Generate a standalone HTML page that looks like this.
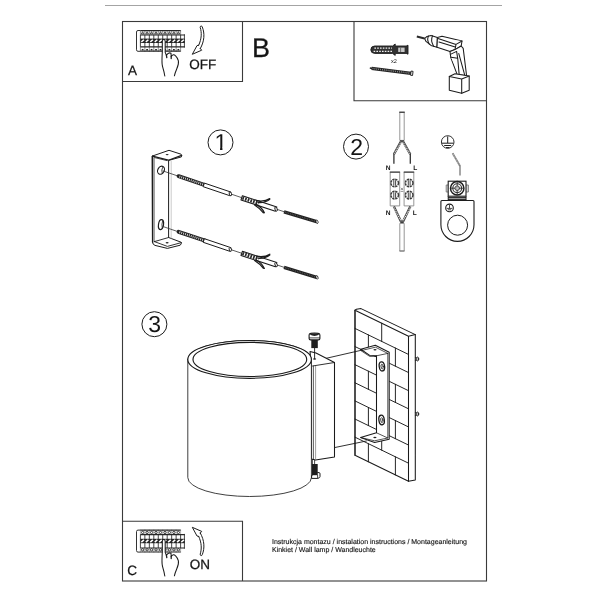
<!DOCTYPE html>
<html lang="pl">
<head>
<meta charset="utf-8">
<title>Instrukcja montazu</title>
<style>
html,body{margin:0;padding:0;background:#fff;width:600px;height:600px;overflow:hidden}
svg{display:block;filter:blur(0.3px)}
text{font-family:"Liberation Sans",sans-serif;fill:#151515;text-rendering:geometricPrecision}
.lb{stroke:#151515;stroke-width:0.25px}
.cp{stroke:#222;stroke-width:0.15px}
</style>
</head>
<body>
<svg width="600" height="600" viewBox="0 0 600 600">
<rect width="600" height="600" fill="#fff"/>
<!-- frame -->
<line x1="105" y1="5.5" x2="502" y2="5.5" stroke="#a4a4a4" stroke-width="1.2"/>
<g fill="none" stroke="#3a3a3a" stroke-width="1.1">
<rect x="122.5" y="21.5" width="364" height="559.5"/>
<path d="M122.5 81.5H242.5V21.5"/>
<path d="M354 21.5V100.7H486.5"/>
<path d="M122.5 521.3H242.5V581"/>
</g>
<!-- panel A -->
<g transform="translate(136 30)" stroke="#262626" fill="none" stroke-linecap="butt">
<path d="M4.6 0.5H2Q0.5 0.5 0.5 2V19.8Q0.5 21.3 2 21.3H4.6" stroke="#333" stroke-width="1"/>
<rect x="4.4" y="0" width="40.2" height="21.8" fill="#fff" stroke="none"/>
<rect x="4.4" y="8.60" width="44.40" height="4.40" fill="#262626" stroke="none"/>
<path d="M4.4 0.6H44.6M4.4 21.2H44.6" stroke-width="1.2"/>
<path d="M4.4 5.0H48.8M4.4 16.8H48.8" stroke-width="1.2"/>
<path d="M4.40 0V5.0M4.40 16.8V21.8M8.87 0V5.0M8.87 16.8V21.8M13.33 0V5.0M13.33 16.8V21.8M17.80 0V5.0M17.80 16.8V21.8M22.27 0V5.0M22.27 16.8V21.8M26.73 0V5.0M26.73 16.8V21.8M31.20 0V5.0M31.20 16.8V21.8M35.67 0V5.0M35.67 16.8V21.8M40.13 0V5.0M40.13 16.8V21.8M44.60 0V5.0M44.60 16.8V21.8" stroke-width="0.5"/>
<path d="M4.40 5.0V16.8M8.87 5.0V16.8M13.33 5.0V16.8M17.80 5.0V16.8M22.27 5.0V16.8M26.73 5.0V16.8M31.20 5.0V16.8M35.67 5.0V16.8M40.13 5.0V16.8M44.60 5.0V16.8M48.40 4.3V17.5" stroke-width="0.85"/>
<path d="M5.33 11.90L7.93 9.70" stroke="#fff" stroke-width="1.5"/>
<path d="M5.23 4.1L6.63 1.6L8.03 4.1Z" stroke-width="0.7" fill="#bbb"/>
<path d="M5.73 19.70H7.53" stroke-width="1.5"/>
<path d="M9.80 11.90L12.40 9.70" stroke="#fff" stroke-width="1.5"/>
<path d="M9.70 4.1L11.10 1.6L12.50 4.1Z" stroke-width="0.7" fill="#bbb"/>
<path d="M10.20 19.70H12.00" stroke-width="1.5"/>
<path d="M14.27 11.90L16.87 9.70" stroke="#fff" stroke-width="1.5"/>
<path d="M14.17 4.1L15.57 1.6L16.97 4.1Z" stroke-width="0.7" fill="#bbb"/>
<path d="M14.67 19.70H16.47" stroke-width="1.5"/>
<path d="M18.73 11.90L21.33 9.70" stroke="#fff" stroke-width="1.5"/>
<path d="M18.63 4.1L20.03 1.6L21.43 4.1Z" stroke-width="0.7" fill="#bbb"/>
<path d="M19.13 19.70H20.93" stroke-width="1.5"/>
<path d="M23.20 11.90L25.80 9.70" stroke="#fff" stroke-width="1.5"/>
<path d="M23.10 4.1L24.50 1.6L25.90 4.1Z" stroke-width="0.7" fill="#bbb"/>
<path d="M23.60 19.70H25.40" stroke-width="1.5"/>
<path d="M27.67 11.90L30.27 9.70" stroke="#fff" stroke-width="1.5"/>
<path d="M27.57 4.1L28.97 1.6L30.37 4.1Z" stroke-width="0.7" fill="#bbb"/>
<path d="M28.07 19.70H29.87" stroke-width="1.5"/>
<path d="M32.13 11.90L34.73 9.70" stroke="#fff" stroke-width="1.5"/>
<path d="M32.03 4.1L33.43 1.6L34.83 4.1Z" stroke-width="0.7" fill="#bbb"/>
<path d="M32.53 19.70H34.33" stroke-width="1.5"/>
<path d="M36.60 11.90L39.20 9.70" stroke="#fff" stroke-width="1.5"/>
<path d="M36.50 4.1L37.90 1.6L39.30 4.1Z" stroke-width="0.7" fill="#bbb"/>
<path d="M37.00 19.70H38.80" stroke-width="1.5"/>
<path d="M41.07 11.90L43.67 9.70" stroke="#fff" stroke-width="1.5"/>
<path d="M40.97 4.1L42.37 1.6L43.77 4.1Z" stroke-width="0.7" fill="#bbb"/>
<path d="M41.47 19.70H43.27" stroke-width="1.5"/>
<path d="M45.30 11.90L47.90 9.70" stroke="#fff" stroke-width="1.5"/>
</g>
<g transform="translate(0 0)" fill="#fff" stroke="#1c1c1c" stroke-width="1.05" stroke-linejoin="round" stroke-linecap="round">
<path d="M164.8 76C164.4 72.6 163.4 69.4 162.4 66C161.6 62.6 162 58 162.3 52V41.2Q162.5 39.4 163.8 39.4Q165.1 39.4 165.2 41.2V52.4L166.4 55.2Q168.6 52 171 53.2L171.2 56.6Q173.2 53.2 175.6 55.8Q177.8 58 178.4 60.8C178.9 63.6 178 66 176.8 68.8C175.8 71.2 174.9 73.4 174.4 75.8" />
<path d="M166.4 55.2L166.8 57.6M171.2 56.4V58.6" fill="none" stroke-width="1.3"/>
</g>
<g fill="none" stroke="#1c1c1c" stroke-width="1" stroke-linejoin="round" stroke-linecap="round" >
<path d="M198.7 45.2C201.8 38.6 201.8 32.6 200.2 27.4Q200.2 26 201.2 26Q202 26 202.3 27C204.8 33.4 204.6 41 200.3 48.6"/>
<path d="M198.7 45.2L197 45.6L192.3 54.3L201.7 50.2L200.3 48.6"/>
</g>
<text x="127.9" y="74.6" font-size="13.5" class="lb">A</text>
<text x="189.2" y="68.9" font-size="13.5" class="lb">OFF</text>
<text x="252" y="56.6" font-size="27" class="lb">B</text>
<!-- panel C -->
<g transform="translate(136 529.6)" stroke="#262626" fill="none" stroke-linecap="butt">
<path d="M4.6 0.5H2Q0.5 0.5 0.5 2V21.0Q0.5 22.5 2 22.5H4.6" stroke="#333" stroke-width="1"/>
<rect x="4.4" y="0" width="40.2" height="23.0" fill="#fff" stroke="none"/>
<rect x="4.4" y="9.20" width="44.40" height="4.40" fill="#262626" stroke="none"/>
<path d="M4.4 0.6H44.6M4.4 22.4H44.6" stroke-width="1.2"/>
<path d="M4.4 5.0H48.8M4.4 18.4H48.8" stroke-width="1.2"/>
<path d="M4.40 0V5.0M4.40 18.4V23.0M8.87 0V5.0M8.87 18.4V23.0M13.33 0V5.0M13.33 18.4V23.0M17.80 0V5.0M17.80 18.4V23.0M22.27 0V5.0M22.27 18.4V23.0M26.73 0V5.0M26.73 18.4V23.0M31.20 0V5.0M31.20 18.4V23.0M35.67 0V5.0M35.67 18.4V23.0M40.13 0V5.0M40.13 18.4V23.0M44.60 0V5.0M44.60 18.4V23.0" stroke-width="0.35"/>
<path d="M4.40 5.0V18.4M8.87 5.0V18.4M13.33 5.0V18.4M17.80 5.0V18.4M22.27 5.0V18.4M26.73 5.0V18.4M31.20 5.0V18.4M35.67 5.0V18.4M40.13 5.0V18.4M44.60 5.0V18.4M48.40 4.3V19.099999999999998" stroke-width="0.85"/>
<path d="M5.33 12.50L7.93 10.30" stroke="#fff" stroke-width="1.5"/>
<circle cx="6.63" cy="2.9" r="1.15" stroke-width="0.9"/>
<circle cx="6.63" cy="20.20" r="1.15" stroke-width="0.9"/>
<path d="M9.80 12.50L12.40 10.30" stroke="#fff" stroke-width="1.5"/>
<circle cx="11.10" cy="2.9" r="1.15" stroke-width="0.9"/>
<circle cx="11.10" cy="20.20" r="1.15" stroke-width="0.9"/>
<path d="M14.27 12.50L16.87 10.30" stroke="#fff" stroke-width="1.5"/>
<circle cx="15.57" cy="2.9" r="1.15" stroke-width="0.9"/>
<circle cx="15.57" cy="20.20" r="1.15" stroke-width="0.9"/>
<path d="M18.73 12.50L21.33 10.30" stroke="#fff" stroke-width="1.5"/>
<circle cx="20.03" cy="2.9" r="1.15" stroke-width="0.9"/>
<circle cx="20.03" cy="20.20" r="1.15" stroke-width="0.9"/>
<path d="M23.20 12.50L25.80 10.30" stroke="#fff" stroke-width="1.5"/>
<circle cx="24.50" cy="2.9" r="1.15" stroke-width="0.9"/>
<circle cx="24.50" cy="20.20" r="1.15" stroke-width="0.9"/>
<path d="M27.67 12.50L30.27 10.30" stroke="#fff" stroke-width="1.5"/>
<circle cx="28.97" cy="2.9" r="1.15" stroke-width="0.9"/>
<circle cx="28.97" cy="20.20" r="1.15" stroke-width="0.9"/>
<path d="M32.13 12.50L34.73 10.30" stroke="#fff" stroke-width="1.5"/>
<circle cx="33.43" cy="2.9" r="1.15" stroke-width="0.9"/>
<circle cx="33.43" cy="20.20" r="1.15" stroke-width="0.9"/>
<path d="M36.60 12.50L39.20 10.30" stroke="#fff" stroke-width="1.5"/>
<circle cx="37.90" cy="2.9" r="1.15" stroke-width="0.9"/>
<circle cx="37.90" cy="20.20" r="1.15" stroke-width="0.9"/>
<path d="M41.07 12.50L43.67 10.30" stroke="#fff" stroke-width="1.5"/>
<circle cx="42.37" cy="2.9" r="1.15" stroke-width="0.9"/>
<circle cx="42.37" cy="20.20" r="1.15" stroke-width="0.9"/>
<path d="M45.30 12.50L47.90 10.30" stroke="#fff" stroke-width="1.5"/>
</g>
<g transform="translate(0 500)" fill="#fff" stroke="#1c1c1c" stroke-width="1.05" stroke-linejoin="round" stroke-linecap="round">
<path d="M164.8 76C164.4 72.6 163.4 69.4 162.4 66C161.6 62.6 162 58 162.3 52V41.2Q162.5 39.4 163.8 39.4Q165.1 39.4 165.2 41.2V52.4L166.4 55.2Q168.6 52 171 53.2L171.2 56.6Q173.2 53.2 175.6 55.8Q177.8 58 178.4 60.8C178.9 63.6 178 66 176.8 68.8C175.8 71.2 174.9 73.4 174.4 75.8" />
<path d="M166.4 55.2L166.8 57.6M171.2 56.4V58.6" fill="none" stroke-width="1.3"/>
</g>
<g fill="none" stroke="#1c1c1c" stroke-width="1" stroke-linejoin="round" stroke-linecap="round" transform="translate(0 581.6) scale(1 -1)">
<path d="M198.7 45.2C201.8 38.6 201.8 32.6 200.2 27.4Q200.2 26 201.2 26Q202 26 202.3 27C204.8 33.4 204.6 41 200.3 48.6"/>
<path d="M198.7 45.2L197 45.6L192.3 54.3L201.7 50.2L200.3 48.6"/>
</g>
<text x="127.2" y="575.4" font-size="13.5" class="lb">C</text>
<text x="189.7" y="569.3" font-size="13.5" class="lb">ON</text>
<text x="272" y="543.8" font-size="7" fill="#222" class="cp">Instrukcja montazu / instalation instructions / Montageanleitung</text>
<text x="272" y="552.4" font-size="7" fill="#222" class="cp">Kinkiet / Wall lamp / Wandleuchte</text>
<!-- tools -->
<g stroke="#1c1c1c" fill="none" stroke-width="0.9" stroke-linejoin="round">
<path d="M370.8 49.8Q370.8 46.2 374.6 46H392.6L395.2 44V46H406.2L408 45.2V54.2L406.2 53.4H395.2V55.4L392.6 53.4H374.6Q370.8 53.2 370.8 49.8Z" fill="#333"/>
<path d="M374.4 48.2H392M373.6 51.3H392" stroke="#f2f2f2" stroke-width="1.2" stroke-dasharray="1.6 1.2"/>
<rect x="398.2" y="47.6" width="6.4" height="4.4" fill="#c8c8c8" stroke="none"/>
<path d="M400.6 47.6V52" stroke="#555" stroke-width="0.8"/>
</g>
<text x="391" y="63.3" font-size="5.6" fill="#4a4a4a">x2</text>
<g stroke="#1c1c1c" fill="none">
<path d="M369.8 68L372.6 68.5" stroke-width="1.6" stroke="#222"/>
<path d="M371.6 68.4L411 73.3" stroke-width="3.3" stroke="#222"/>
<path d="M372.6 68.5L410.4 73.2" stroke-width="1.5" stroke="#999" stroke-dasharray="0.8 1.1"/>
<rect x="410.8" y="71.2" width="2" height="4.2" fill="#fff" stroke-width="0.9" transform="rotate(7 411.8 73.3)"/>
</g>
<g stroke="#1c1c1c" fill="#fff" stroke-width="1.05" stroke-linejoin="round" stroke-linecap="round">
<path d="M416.8 36.5L424.6 38.5" stroke-width="2" stroke="#2a2a2a" stroke-linecap="butt"/>
<path d="M424.6 38.6L427 36.4L431 35.4L437.4 37.4L437 47.2L431 45.4L426 41.4Z"/>
<path d="M428.6 36Q426.4 39.4 429.4 44.2M432.6 35.8Q430.2 40.4 433.6 46.2"/>
<path d="M437.4 37.4L442 36.2L462 41L461.2 46L455 49.6L450 51.6L437 47.2Z"/>
<path d="M438 38.6L456 44.4L462 41M456 44.4L455 49.6M439 42L455.2 47"/>
<path d="M450 51.6L455 49.6L461.2 46L463.2 48.4L466.6 75.8L457.2 74.6L450.8 57.6Z"/>
<path d="M451 57.2L457.7 58.3L459.2 75M458.8 53.6L464.8 75.4M450.4 54.4L456.6 51.4L457.7 58.3"/>
<path d="M449.3 76.4L455 73.8L469.2 76V90.2L461.7 93.2L449.3 90.2Z"/>
<path d="M449.3 76.4L461.7 79L469.2 76M461.7 79V93.2"/>
</g>
<!-- step 1 -->
<clipPath id="one"><path d="M210 128H224V147.6H222.45V153H220.05V147.6H210Z"/></clipPath>
<circle cx="220.5" cy="142.4" r="12.5" fill="none" stroke="#1c1c1c" stroke-width="1"/>
<text x="220.9" y="150.1" font-size="23" text-anchor="middle" clip-path="url(#one)">1</text>
<circle cx="356" cy="146.6" r="12.5" fill="none" stroke="#1c1c1c" stroke-width="1"/>
<text x="356.6" y="154.6" font-size="23" text-anchor="middle">2</text>
<circle cx="154.4" cy="324.2" r="12.5" fill="none" stroke="#1c1c1c" stroke-width="1"/>
<text x="154.7" y="332.1" font-size="23" text-anchor="middle">3</text>
<g stroke="#1c1c1c" fill="#fff" stroke-width="1" stroke-linejoin="round" stroke-linecap="round">
<path d="M152.5 156L169 150.3L181 154.2Q181.8 154.6 181.7 155.6L181.4 156.9L168.6 160.4V237.5L181 242.2Q181.8 242.8 181.2 243.8L180.2 245.2L167.4 248.4L155 245.4Q152.5 244.6 152.5 242Z"/>
<path d="M152.6 156.2V242" stroke-width="1.4" fill="none"/>
<path d="M154.2 158V241.4" stroke-width="0.7" fill="none" stroke="#444"/>
<path d="M152.5 156.2L168.4 160.2L181.6 155.4" stroke-width="1.2" fill="none"/>
<path d="M154.6 157.6L167 160.6" stroke-width="0.8" fill="none"/>
<path d="M154.4 241.6L168.6 237.5M154.4 241.6L167.4 246.4L181.4 242.6" stroke-width="0.9" fill="none"/>
<path d="M171.2 161V238.4" stroke="#aaa" stroke-width="0.6"/>
<ellipse cx="161" cy="170.2" rx="3.2" ry="4.2" transform="rotate(28 161 170.2)" stroke-width="1.2"/>
<path d="M162.6 167.4Q161 170 162.2 173.2" stroke-width="0.8" fill="none"/>
<ellipse cx="161" cy="224.6" rx="2.5" ry="5" transform="rotate(8 161 224.6)" stroke-width="1.2"/>
<path d="M162.6 221Q161.4 224 162.2 228" stroke-width="0.8" fill="none"/>
<ellipse cx="167.1" cy="154.6" rx="1.5" ry="0.7" fill="#222" stroke="none"/>
<ellipse cx="167.1" cy="242.8" rx="1.5" ry="0.7" fill="#222" stroke="none"/>
</g>
<g transform="translate(0 0)" stroke="#1c1c1c" fill="none" stroke-linecap="butt">
<path d="M162.6 170.8L178.4 176.2M230.6 193.9L241.8 197.7M276 209L284 211.7" stroke-width="0.8" stroke="#333"/>
<path d="M178.6 176.2L205 185.1" stroke-width="3.9" stroke="#222" stroke-linecap="round"/>
<path d="M179.4 176.5L205 185.1" stroke-width="2.1" stroke="#d8d8d8" stroke-dasharray="0.9 1.1"/>
<path d="M204.4 183.1L231 192.1L229.8 195.7L203.2 186.7Z" fill="#fff" stroke-width="1" stroke-linejoin="round"/>
<ellipse cx="230.4" cy="193.9" rx="1.1" ry="2" transform="rotate(-19 230.4 193.9)" fill="#fff" stroke-width="0.9"/>
<path d="M242.4 195.7L276.8 207L275.4 211.2L241 199.9Z" fill="#fff" stroke-width="1.1" stroke-linejoin="round"/>
<path d="M242.4 197.9L258.6 203.3" stroke-width="3.4" stroke="#2a2a2a" stroke-dasharray="1.7 1.1"/>
<path d="M256.4 200.6Q264.6 202 269.8 198.6M258 202.6Q265 203.2 269.8 199.4" stroke-width="1.2" stroke-linecap="round"/>
<path d="M256 204.4Q261.6 207 264.4 212.8M254.6 205Q260 208.4 263.4 212.8" stroke-width="1.2" stroke-linecap="round"/>
<ellipse cx="276.1" cy="209.1" rx="1.1" ry="2.2" transform="rotate(-19 276.1 209.1)" fill="#fff" stroke-width="0.9"/>
<path d="M284 211.8L316.6 221.7" stroke-width="3.3" stroke="#222"/>
<path d="M285 212.1L316 221.5" stroke-width="1.3" stroke="#666" stroke-dasharray="0.6 1.2"/>
<ellipse cx="317" cy="221.8" rx="1" ry="1.8" transform="rotate(-17 317 221.8)" fill="#fff" stroke-width="0.8"/>
</g>
<g transform="translate(0 55.6)" stroke="#1c1c1c" fill="none" stroke-linecap="butt">
<path d="M162.6 170.8L178.4 176.2M230.6 193.9L241.8 197.7M276 209L284 211.7" stroke-width="0.8" stroke="#333"/>
<path d="M178.6 176.2L205 185.1" stroke-width="3.9" stroke="#222" stroke-linecap="round"/>
<path d="M179.4 176.5L205 185.1" stroke-width="2.1" stroke="#d8d8d8" stroke-dasharray="0.9 1.1"/>
<path d="M204.4 183.1L231 192.1L229.8 195.7L203.2 186.7Z" fill="#fff" stroke-width="1" stroke-linejoin="round"/>
<ellipse cx="230.4" cy="193.9" rx="1.1" ry="2" transform="rotate(-19 230.4 193.9)" fill="#fff" stroke-width="0.9"/>
<path d="M242.4 195.7L276.8 207L275.4 211.2L241 199.9Z" fill="#fff" stroke-width="1.1" stroke-linejoin="round"/>
<path d="M242.4 197.9L258.6 203.3" stroke-width="3.4" stroke="#2a2a2a" stroke-dasharray="1.7 1.1"/>
<path d="M256.4 200.6Q264.6 202 269.8 198.6M258 202.6Q265 203.2 269.8 199.4" stroke-width="1.2" stroke-linecap="round"/>
<path d="M256 204.4Q261.6 207 264.4 212.8M254.6 205Q260 208.4 263.4 212.8" stroke-width="1.2" stroke-linecap="round"/>
<ellipse cx="276.1" cy="209.1" rx="1.1" ry="2.2" transform="rotate(-19 276.1 209.1)" fill="#fff" stroke-width="0.9"/>
<path d="M284 211.8L316.6 221.7" stroke-width="3.3" stroke="#222"/>
<path d="M285 212.1L316 221.5" stroke-width="1.3" stroke="#666" stroke-dasharray="0.6 1.2"/>
<ellipse cx="317" cy="221.8" rx="1" ry="1.8" transform="rotate(-17 317 221.8)" fill="#fff" stroke-width="0.8"/>
</g>
<!-- step 2 -->
<g stroke="#1c1c1c" fill="none" stroke-linecap="butt" stroke-linejoin="round">
<rect x="399.8" y="112.4" width="4.4" height="28" fill="#fff" stroke="#8a8a8a" stroke-width="0.9"/>
<path d="M399.2 112.2H404.8" stroke-width="1.2" stroke="#333"/>
<path d="M401.4 140.6L393.9 154.2M402.6 140.6L410.3 154.2" stroke-width="2.3" stroke="#444"/>
<path d="M401.4 141.6L393.9 154.2M402.6 141.6L410.3 154.2" stroke-width="1.1" stroke="#f4f4f4" stroke-dasharray="1.1 0.8"/>
<path d="M400.8 140.4L402 142.6L403.2 140.4Z" fill="#333" stroke="none"/>
<path d="M393.9 153.6V163.8M410.3 153.6V163.8" stroke-width="1.3" stroke="#333"/>
<rect x="390.2" y="172.2" width="9.5" height="33.7" fill="#fff" stroke="#8a8a8a" stroke-width="0.9"/>
<rect x="404.1" y="172.2" width="9.7" height="33.7" fill="#fff" stroke="#8a8a8a" stroke-width="0.9"/>
<path d="M389.8 172.2H400.1M403.7 172.2H414.2" stroke-width="1.3" stroke="#444"/>
<path d="M400.9 187.8L403 190M403 187.8L400.9 190M400.6 191.4H403.4" stroke="#666" stroke-width="0.7"/>
<circle cx="394.7" cy="183" r="3.8" fill="#fff" stroke="#3a3a3a" stroke-width="1.5" stroke-dasharray="2.3 0.7"/>
<path d="M393.8 180.2V185.8M395.59999999999997 180.2V185.8" stroke-width="0.9" stroke="#333"/>
<circle cx="394.7" cy="195.1" r="3.8" fill="#fff" stroke="#3a3a3a" stroke-width="1.5" stroke-dasharray="2.3 0.7"/>
<path d="M393.8 192.29999999999998V197.9M395.59999999999997 192.29999999999998V197.9" stroke-width="0.9" stroke="#333"/>
<circle cx="409.2" cy="183" r="3.8" fill="#fff" stroke="#3a3a3a" stroke-width="1.5" stroke-dasharray="2.3 0.7"/>
<path d="M408.3 180.2V185.8M410.09999999999997 180.2V185.8" stroke-width="0.9" stroke="#333"/>
<circle cx="409.2" cy="195.1" r="3.8" fill="#fff" stroke="#3a3a3a" stroke-width="1.5" stroke-dasharray="2.3 0.7"/>
<path d="M408.3 192.29999999999998V197.9M410.09999999999997 192.29999999999998V197.9" stroke-width="0.9" stroke="#333"/>
<path d="M393.9 206.6L401.4 222.4M410.3 206.6L402.6 222.4" stroke-width="2.3" stroke="#444"/>
<path d="M393.9 207.6L401.4 221.6M410.3 207.6L402.6 221.6" stroke-width="1.1" stroke="#f4f4f4" stroke-dasharray="1.1 0.8"/>
<path d="M400.4 223.6L402 220.4L403.6 223.6Z" fill="#333" stroke="none"/>
<rect x="399.8" y="223.4" width="4.4" height="27.6" fill="#fff" stroke="#8a8a8a" stroke-width="0.9"/>
<path d="M399.4 251H404.6" stroke-width="1" stroke="#777"/>
</g>
<g font-size="6.6" font-weight="bold" fill="#2a2a2a">
<text x="385.7" y="169.8">N</text><text x="413.2" y="169.8">L</text>
<text x="385.7" y="214.9">N</text><text x="412.8" y="214.9">L</text>
</g>
<g stroke="#1c1c1c" fill="none" stroke-linecap="butt">
<circle cx="447.7" cy="142" r="6.3" stroke-width="0.9"/>
<path d="M447.7 136.4V143M442 143.2H453.4M444.2 145.5H451.2M446 147.6H449.4" stroke-width="1"/>
<path d="M452.6 153.2L460 166" stroke-width="1.7" stroke="#777"/>
<path d="M452.9 154L459.6 165.4" stroke-width="0.8" stroke="#eee" stroke-dasharray="0.9 1"/>
<path d="M460 165.4V175.4" stroke-width="1.5" stroke="#888"/>
<path d="M448.2 185H446.2V192H448.2M466 185H468.4V192H466" stroke-width="0.9" stroke="#777" fill="#ddd"/>
<rect x="448.2" y="181.2" width="17.8" height="15" fill="#fff" stroke-width="1.1"/>
<path d="M448 197.6H466.2M448 199.4H466.2" stroke-width="1.1" stroke="#333"/>
<path d="M448.2 196.2V200M466 196.2V200" stroke-width="0.9"/>
<circle cx="457.2" cy="188.2" r="6.7" fill="#fff" stroke-width="1.5"/>
<circle cx="457.2" cy="188.2" r="4.4" fill="#fff" stroke-width="1.1" stroke="#333"/>
<circle cx="457.2" cy="188.2" r="2.3" fill="#bbb" stroke-width="0.9" stroke="#444"/>
<path d="M457.2 181.6V194.8M450.6 188.2H463.8" stroke-width="0.9" stroke="#333"/>
<path d="M457.2 186.4V190M455.4 188.2H459" stroke-width="0.8" stroke="#eee"/>
<path d="M441.9 200.5H473Q474 200.5 474 201.5V224.8A16.55 16.55 0 0 1 440.9 224.8V201.5Q440.9 200.5 441.9 200.5Z" fill="#fff" stroke-width="1.1"/>
<circle cx="457.6" cy="225.2" r="10" stroke-width="1"/>
<circle cx="449.5" cy="207.9" r="3.8" stroke-width="1.1"/>
<path d="M449.5 205V208.2M446.8 208.4H452.2M447.9 209.8H451.1" stroke-width="0.8"/>
</g>
<!-- step 3 -->
<g stroke="#1a1a1a" fill="none" stroke-width="1.05" stroke-linejoin="round" stroke-linecap="round">
<path d="M355 310.3L356.4 309.3L361 308.6L415.3 334.6V480L408.5 481.3L355 455.3Z" fill="#fff"/>
<path d="M355 310.3L408.5 336.3L415.3 334.6M408.5 336.3V481.3"/>
<path d="M355 310.3V455.3" stroke-width="1.3" stroke="#333"/>
<path d="M355 328.43L408.5 354.43M355 346.55L408.5 372.55M355 364.68L408.5 390.68M355 382.80L408.5 408.80M355 400.93L408.5 426.93M355 419.05L408.5 445.05M355 437.18L408.5 463.18" stroke-width="0.95"/>
<path d="M381.7 323.28V341.40M368.4 334.94V353.06M395.4 348.06V366.18M381.7 359.53V377.65M368.4 371.19V389.31M395.4 384.31V402.43M381.7 395.78V413.90M368.4 407.44V425.56M395.4 420.56V438.68M381.7 432.03V450.15M368.4 443.69V461.81M395.4 456.81V474.93" stroke-width="0.95"/>
<path d="M415.3 357.7H417.4M415.3 360.3H417.4" stroke-width="0.8"/>
<ellipse cx="417.7" cy="359" rx="1" ry="2" fill="#fff" stroke-width="0.9"/>
<path d="M415.3 412.7H417.4M415.3 415.3H417.4" stroke-width="0.8"/>
<ellipse cx="417.7" cy="414" rx="1" ry="2" fill="#fff" stroke-width="0.9"/>
<path d="M360.7 349.3L375.3 345.3L389.2 352.3V439.2L374.6 442.4L360.6 437.4L376.5 432.8V355.8L369.7 355.4Z" fill="#fff"/>
<path d="M360.7 349.3L361 350.7L369.7 356.4L376.5 356.2M387.8 353.4V438L376.5 432.8M387.8 353.4L376.5 355.8M387.8 353.4L375.4 347.2L362 350.4M387.8 438L374.6 440.8L361 437.6" stroke-width="0.75"/>
<ellipse cx="381.9" cy="366.4" rx="2.7" ry="4.6" stroke-width="1.3" transform="rotate(-8 381.9 366.4)"/>
<ellipse cx="382.1" cy="366.6" rx="1.1" ry="2.4" stroke-width="0.8" transform="rotate(-8 381.9 366.4)"/>
<ellipse cx="381.6" cy="420" rx="2.7" ry="4.8" stroke-width="1.3" transform="rotate(-8 381.6 420)"/>
<ellipse cx="381.8" cy="420.2" rx="1.1" ry="2.5" stroke-width="0.8" transform="rotate(-8 381.6 420)"/>
<ellipse cx="375" cy="349.7" rx="1.6" ry="0.75" fill="#222" stroke="none"/>
<ellipse cx="374.9" cy="437.6" rx="1.6" ry="0.75" fill="#222" stroke="none"/>
<path d="M325.8 358.4L362.4 350M334.5 447.6L366.4 441" stroke-width="0.9"/>
<path d="M310 351.6L316 353L334.5 362.5V457L315.5 460L311.5 459V366Z" fill="#fff"/>
<path d="M312.6 366L334.5 362.5" stroke-width="0.9"/>
<path d="M313.4 366V459.6" stroke-width="0.7"/>
<path d="M315.6 366.4V460" stroke-width="0.7" stroke="#777"/>
<ellipse cx="314.6" cy="359" rx="1.6" ry="0.7" fill="#222" stroke="none"/>
<path d="M187.8 359.4V477.6A61.8 18.9 0 0 0 311.4 477.6V359.4A61.8 18.9 0 0 0 187.8 359.4Z" fill="#fff" stroke-width="0.9" stroke="#2a2a2a"/>
<ellipse cx="249.6" cy="359.4" rx="61.8" ry="18.9" fill="#fff" stroke-width="1.15"/>
<ellipse cx="249.85" cy="359.4" rx="56.85" ry="17.1" fill="#fff" stroke-width="1.15"/>
<path d="M314.6 347.6V358.6" stroke-width="0.9"/>
<rect x="311.3" y="339.6" width="6.5" height="8.5" fill="#1e1e1e" stroke="none"/>
<path d="M309.1 334.9Q309.1 333.6 310.6 333.4Q314.5 332.6 318.4 333.4Q319.9 333.6 319.9 334.9V338.6Q319.9 339.9 318.4 339.9H310.6Q309.1 339.9 309.1 338.6Z" fill="#fff" stroke-width="1.1"/>
<path d="M309.6 334.6Q314.5 331.8 319.4 334.6Q314.5 337.2 309.6 334.6Z" fill="#222" stroke="none"/>
<path d="M309.4 337.9H319.6" stroke-width="0.8"/>
<path d="M312.4 459.4V464M314.6 460.2V464" stroke-width="0.8"/>
<path d="M312 475.2L317.6 472.6H319Q320 472.6 320 473.8V476.6Q320 477.4 319.2 477.8L317.6 478.4H312Z" fill="#fff" stroke-width="1"/>
<rect x="311.9" y="464" width="5.8" height="11.2" fill="#1e1e1e" stroke="none"/>
<path d="M317.6 475.2V478.2" stroke-width="0.8"/>
</g>
</svg>
</body>
</html>
